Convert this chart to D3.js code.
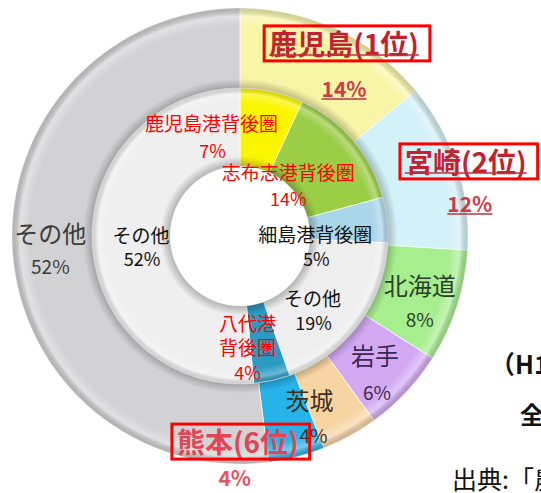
<!DOCTYPE html>
<meta charset="utf-8">
<script src="https://d3js.org/d3.v7.min.js"></script>
<style>
  body { margin: 0; background: #fff; }
  text { font-family: "Noto Sans CJK JP", "Noto Sans", sans-serif; }
</style>
<div id="chart"></div>
<script>
    const width = 541, height = 493;
    const cx = 240, cy = 236;
    const rOuter = 228, rMid = 148, rInner = 70;

    // outer ring: prefecture share
    const outerLabels = ["鹿児島(1位)", "宮崎(2位)", "北海道", "岩手", "茨城", "熊本(6位)", "その他"];
    const outerValues = [14, 12, 8, 6, 4, 4, 52];
    const outerColors = ["#f9f5a6", "#d3f1f8", "#a7ee8e", "#d3a9f4", "#f9d4a3", "#26b3ea", "#d2d2d4"];

    // inner ring: port hinterland share
    const innerLabels = ["鹿児島港背後圏", "志布志港背後圏", "細島港背後圏", "その他", "八代港背後圏", "その他"];
    const innerValues = [7, 14, 5, 19, 4, 52];
    const innerColors = ["#fbf600", "#9bcd47", "#aad6ea", "#eeeeee", "#2a9bc3", "#efefef"];

    // label layout: offsets from arc centroid for name / percent
    const outerLayout = [
        {name: [24, -23], pct: [24, 22], boxed: true, fill: "#c4212f", pfill: "#cf3b47", size: 28, under: true},
        {name: [47, -17], pct: [51, 25], boxed: true, fill: "#c4212f", pfill: "#cf3b47", size: 28, under: true},
        {name: [1, -10], pct: [1, 24], fill: "#2d3f2a", size: 24},
        {name: [-2, -10], pct: [0, 27], fill: "#3b2a4f", size: 24},
        {name: [-21, -1], pct: [-17, 34], fill: "#3d3020", size: 24},
        {name: [-49, 23], pct: [-52, 59], boxed: true, fill: "#e24556", pfill: "#e45363", size: 28},
        {name: [-2, -15], pct: [-2, 18], fill: "#3c3c3c", size: 24}
    ];
    const innerLayout = [
        {name: [-52, -7], pct: [-51, 20], fill: "#ff0000"},
        {name: [-35, 6], pct: [-35, 32], fill: "#ff0000"},
        {name: [-33, 9], pct: [-32, 34], fill: "#111"},
        {name: [-15, -3], pct: [-14, 21], fill: "#111"},
        {name: [-16, -20], pct: [-16, 30], fill: "#ff0000", wrap: 3},
        {name: [10, -7], pct: [11, 17], fill: "#111"}
    ];

    const svg = d3.select("#chart")
        .append("svg")
            .attr("width", width)
            .attr("height", height);

    // radial shading so the rings look bevelled (centred on the group origin)
    const defs = svg.append("defs");
    function ring(id, r, stops) {
        const gr = defs.append("radialGradient")
            .attr("id", id)
            .attr("gradientUnits", "userSpaceOnUse")
            .attr("cx", 0).attr("cy", 0).attr("r", r);
        stops.forEach(s => gr.append("stop")
            .attr("offset", s[0]).attr("stop-color", s[1]).attr("stop-opacity", s[2]));
    }
    ring("shadeOuter", rOuter, [
        [rMid / rOuter, "#000", 0.22], [0.69, "#000", 0], [0.92, "#fff", 0],
        [0.965, "#fff", 0.35], [1, "#000", 0.15]
    ]);
    ring("shadeInner", rMid, [
        [rInner / rMid, "#000", 0.25], [0.54, "#000", 0], [0.9, "#fff", 0],
        [0.96, "#fff", 0.3], [1, "#000", 0.12]
    ]);

    const g = svg.append("g").attr("transform", `translate(${cx},${cy})`);

    const pie = d3.pie().sort(null).value(d => d);
    const outerArc = d3.arc().innerRadius(rMid).outerRadius(rOuter);
    const innerArc = d3.arc().innerRadius(rInner).outerRadius(rMid);

    const outerData = pie(outerValues);
    const innerData = pie(innerValues);

    g.selectAll(".outer")
        .data(outerData)
        .join("path")
            .attr("class", "outer")
            .attr("d", outerArc)
            .attr("fill", (d, i) => outerColors[i])
            .attr("stroke", "#fff")
            .attr("stroke-opacity", 0.7)
            .attr("stroke-width", 1);

    g.selectAll(".inner")
        .data(innerData)
        .join("path")
            .attr("class", "inner")
            .attr("d", innerArc)
            .attr("fill", (d, i) => innerColors[i])
            .attr("stroke", "#fff")
            .attr("stroke-opacity", 0.7)
            .attr("stroke-width", 1);

    const full = {startAngle: 0, endAngle: 2 * Math.PI};
    g.append("path")
        .attr("d", outerArc(full))
        .attr("fill", "url(#shadeOuter)");
    g.append("path")
        .attr("d", innerArc(full))
        .attr("fill", "url(#shadeInner)");

    const labels = svg.append("g");

    function addText(x, y, str, size, fill, weight) {
        return labels.append("text")
            .attr("x", x).attr("y", y)
            .attr("text-anchor", "middle")
            .attr("dominant-baseline", "central")
            .attr("font-size", size)
            .attr("font-weight", weight || "normal")
            .attr("fill", fill)
            .text(str);
    }

    outerData.forEach((d, i) => {
        const c = outerArc.centroid(d);
        const L = outerLayout[i];
        const x = cx + c[0], y = cy + c[1];
        const t = addText(x + L.name[0], y + L.name[1], outerLabels[i], L.size,
            L.fill, L.boxed ? "bold" : "normal");
        const p = addText(x + L.pct[0], y + L.pct[1], outerValues[i] + "%",
            L.boxed ? 21 : 19, L.pfill || L.fill, L.boxed ? "bold" : "normal");
        if (L.boxed) {
            const b = t.node().getBBox();
            labels.append("rect")
                .attr("x", b.x - 5).attr("y", b.y + 3)
                .attr("width", b.width + 16).attr("height", b.height - 5)
                .attr("fill", "none")
                .attr("stroke", "#ff0000")
                .attr("stroke-width", 3);
        }
        if (L.under) {
            const b = t.node().getBBox(), bp = p.node().getBBox();
            labels.append("line")
                .attr("x1", b.x).attr("x2", b.x + b.width)
                .attr("y1", b.y + b.height - 8).attr("y2", b.y + b.height - 8)
                .attr("stroke", "#b8343c").attr("stroke-width", 1.5);
            labels.append("line")
                .attr("x1", bp.x).attr("x2", bp.x + bp.width)
                .attr("y1", bp.y + bp.height - 4).attr("y2", bp.y + bp.height - 4)
                .attr("stroke", "#b8343c").attr("stroke-width", 1.5);
        }
    });

    innerData.forEach((d, i) => {
        const c = innerArc.centroid(d);
        const L = innerLayout[i];
        const x = cx + c[0], y = cy + c[1];
        const name = innerLabels[i];
        if (L.wrap) {
            addText(x + L.name[0], y + L.name[1], name.slice(0, L.wrap), 19, L.fill);
            addText(x + L.name[0], y + L.name[1] + 24, name.slice(L.wrap), 19, L.fill);
        } else {
            addText(x + L.name[0], y + L.name[1], name, 19, L.fill);
        }
        addText(x + L.pct[0], y + L.pct[1], innerValues[i] + "%", 18, L.fill);
    });

    // side notes (clipped by the picture edge)
    svg.append("text")
        .attr("x", 490).attr("y", 374)
        .attr("font-size", 25).attr("font-weight", "bold")
        .attr("font-family", "'Liberation Serif', 'Noto Sans CJK JP', serif")
        .attr("fill", "#111")
        .text("（H19年度）");
    svg.append("text")
        .attr("x", 520).attr("y", 424)
        .attr("font-size", 24).attr("font-weight", "bold")
        .attr("fill", "#111")
        .text("全国シェア");
    svg.append("text")
        .attr("x", 452).attr("y", 489)
        .attr("font-size", 25)
        .attr("fill", "#111")
        .text("出典:「農林水産省」");
</script>
